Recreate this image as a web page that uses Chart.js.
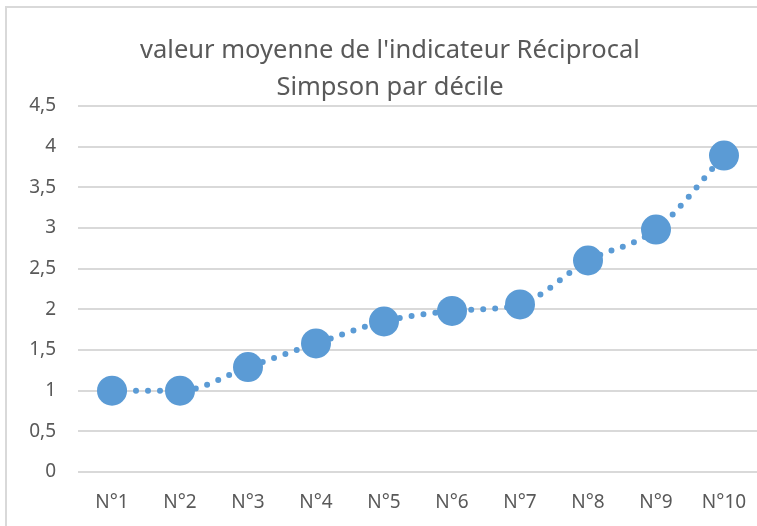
<!DOCTYPE html>
<html>
<head>
<meta charset="utf-8">
<script src="https://cdn.jsdelivr.net/npm/chart.js@4/dist/chart.umd.min.js"></script>
<style>
  html, body { margin: 0; padding: 0; background: #fff; overflow: hidden; }
  #box {
    position: absolute; left: 5px; top: 6px;
    width: 770px; height: 530px;
    border: 2px solid #d9d9d9; box-sizing: border-box;
  }
</style>
</head>
<body>
<div id="box"><canvas id="myChart"></canvas></div>
<script>
const labels = ['N°1', 'N°2', 'N°3', 'N°4', 'N°5', 'N°6', 'N°7', 'N°8', 'N°9', 'N°10'];
const values = [1.0, 1.0, 1.29, 1.58, 1.85, 1.98, 2.06, 2.6, 2.98, 3.89];
const titleLines = ["valeur moyenne de l'indicateur Réciprocal", 'Simpson par décile'];

const font = "'Noto Sans', sans-serif";
const blue = '#5b9bd5';

const data = {
  labels: labels,
  datasets: [{
    data: values,
    borderColor: blue,
    backgroundColor: blue,
    borderWidth: 6,
    borderDash: [0, 12],
    borderCapStyle: 'round',
    cubicInterpolationMode: 'monotone',
    pointRadius: 15,
    pointHoverRadius: 15,
    pointBorderWidth: 0,
  }]
};

const config = {
  type: 'line',
  data: data,
  options: {
    responsive: false,
    animation: false,
    plugins: {
      legend: { display: false },
      tooltip: { enabled: false },
      title: {
        display: true,
        text: titleLines,
        color: '#595959',
        font: { family: font, size: 25.5, weight: 'normal', lineHeight: 1.45 },
        padding: { top: 24, bottom: 0 }
      }
    },
    scales: {
      x: {
        offset: true,
        grid: { display: false, drawTicks: false },
        border: { display: false },
        ticks: { color: '#595959', font: { family: font, size: 19 }, padding: 19 },
        afterFit: (s) => { s.height = 52; }
      },
      y: {
        min: 0,
        max: 4.5,
        ticks: {
          stepSize: 0.5,
          color: '#595959',
          font: { family: font, size: 19 },
          padding: 22,
          callback: (v) => String(v).replace('.', ',')
        },
        grid: { color: '#d9d9d9', lineWidth: 2, drawTicks: false },
        border: { display: false },
        afterFit: (s) => { s.width = 71; }
      }
    }
  }
};

const canvas = document.getElementById('myChart');
canvas.width = 766;
canvas.height = 516;
const myChart = new Chart(canvas, config);
</script>
</body>
</html>
